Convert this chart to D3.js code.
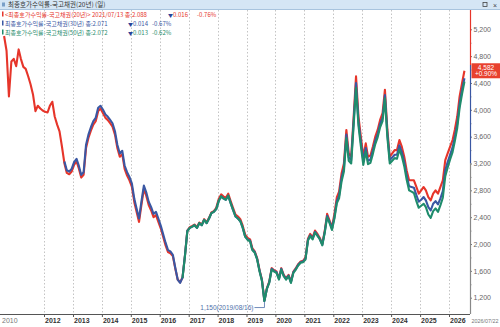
<!DOCTYPE html>
<html><head><meta charset="utf-8">
<script src="https://cdn.jsdelivr.net/npm/d3@7"></script>
<style>body{margin:0;background:#fff}svg{display:block}</style>
</head><body>
<svg id="c" width="500" height="327"></svg>
<script>
// ---------------- DATA ----------------
const titleText = "최종호가수익률-국고채권(20년) (일)";
const seriesNames = ["최종호가수익률-국고채권(20년)", "최종호가수익률-국고채권(30년)", "최종호가수익률-국고채권(50년)"];
const legendDate = "2021/07/13";
const legendClose = ["2.088", "2.071", "2.072"];
const legendChange = ["0.016", "0.014", "0.013"];
const legendPct = ["-0.76%", "-0.67%", "-0.62%"];
const yearTicks = [2012, 2013, 2014, 2015, 2016, 2017, 2018, 2019, 2020, 2021, 2022, 2023, 2024, 2025, 2026];
const firstLabel = "2010";
const lastLabel = "2026/07/22";
const yTicks = [1200, 1600, 2000, 2400, 2800, 3200, 3600, 4000, 4400, 4800, 5200];
const lastValue = 4582;
const lastPct = "+0.90%";
const minLabel = "1,150(2019/08/16)";
const minValue = 1150;
const minDate = "2019-08-16";

// monthly values (mid-month), start months
const start20 = [2010, 8];
const y20 = [
  5100, 4880, 4200, 4720, 4760,
  4650, 4900, 4760, 4640, 4610, 4500, 4380, 4230, 3980, 4060, 4020, 3990,
  3970, 3960, 4060, 4120, 3900, 3780, 3680, 3450, 3200, 3060, 3040, 3080,
  3180, 3230, 3130, 2990, 3030, 3430, 3580, 3690, 3780, 3830, 3980, 4020,
  3950, 3880, 3850, 3800, 3750, 3630, 3430, 3300, 3340, 3120, 3020, 2950,
  2850, 2620, 2480, 2330, 2580, 2820, 2720, 2580, 2500, 2400, 2430, 2330,
  2230, 2100, 1980, 1880, 1860, 1820, 1640, 1470, 1430, 1500, 1830, 2200,
  2250, 2270, 2290, 2250, 2320, 2290, 2370, 2320, 2390, 2470, 2490, 2540,
  2670, 2740, 2710, 2690, 2750, 2640, 2540, 2440, 2410, 2370, 2270, 2140,
  2090, 2070, 1940, 1890, 1790, 1610, 1470, 1160, 1340, 1440, 1640, 1610,
  1590, 1490, 1640, 1540, 1490, 1540, 1440, 1590, 1640, 1700, 1740, 1750,
  1800, 2080, 2150, 2100, 2200, 2150, 2090, 2000, 2200, 2450, 2350, 2250,
  2450, 2700, 2780, 3050, 3200, 3700, 3350, 3300, 3900, 4500, 3900, 3600,
  3300, 3500, 3300, 3320, 3450, 3600, 3700, 3850, 3950, 4300, 3700, 3300,
  3350, 3400, 3400, 3550, 3450, 3300, 3100, 2950, 2950, 2950, 2850, 2750,
  2800, 2850, 2800, 2700, 2650, 2750, 2800, 2750, 2850, 2950, 3250, 3350,
  3450, 3550, 3700, 3900, 4200, 4400, 4582
];
const start30 = [2012, 9];
const y30 = [
  3230, 3100, 3080, 3120,
  3220, 3270, 3170, 3030, 3070, 3480, 3630, 3740, 3830, 3880, 4030, 4060,
  4000, 3930, 3900, 3850, 3800, 3680, 3480, 3350, 3390, 3170, 3070, 3000,
  2900, 2670, 2530, 2380, 2630, 2870, 2770, 2630, 2550, 2450, 2480, 2380,
  2270, 2140, 2020, 1910, 1890, 1840, 1650, 1470, 1420, 1500, 1830, 2200,
  2240, 2260, 2280, 2240, 2310, 2280, 2360, 2310, 2380, 2460, 2480, 2520,
  2640, 2710, 2680, 2660, 2720, 2610, 2510, 2410, 2380, 2340, 2240, 2110,
  2070, 2050, 1920, 1880, 1780, 1600, 1460, 1150, 1330, 1430, 1630, 1600,
  1580, 1480, 1630, 1530, 1480, 1530, 1430, 1580, 1630, 1690, 1730, 1740,
  1780, 2060, 2130, 2080, 2180, 2130, 2071, 1990, 2180, 2420, 2330, 2230,
  2400, 2640, 2720, 2980, 3130, 3630, 3290, 3250, 3830, 4400, 3820, 3520,
  3240, 3430, 3240, 3260, 3390, 3540, 3640, 3790, 3880, 4220, 3640, 3250,
  3290, 3330, 3330, 3470, 3370, 3220, 3020, 2860, 2850, 2840, 2730, 2630,
  2660, 2700, 2650, 2550, 2500, 2600, 2640, 2590, 2680, 2790, 3100, 3220,
  3330, 3440, 3590, 3790, 4090, 4300, 4470
];
const start50 = [2016, 10];
const y50 = [
  1490, 1820, 2190,
  2240, 2260, 2280, 2240, 2310, 2280, 2360, 2310, 2380, 2460, 2480, 2520,
  2640, 2710, 2680, 2660, 2720, 2610, 2510, 2410, 2380, 2340, 2240, 2110,
  2060, 2040, 1910, 1870, 1770, 1590, 1450, 1150, 1330, 1420, 1620, 1590,
  1570, 1470, 1620, 1520, 1470, 1520, 1420, 1570, 1620, 1680, 1720, 1730,
  1770, 2050, 2120, 2070, 2170, 2120, 2072, 1980, 2170, 2400, 2310, 2210,
  2380, 2610, 2680, 2930, 3080, 3580, 3240, 3200, 3770, 4330, 3760, 3460,
  3180, 3380, 3190, 3210, 3340, 3490, 3590, 3740, 3830, 4170, 3590, 3200,
  3240, 3280, 3270, 3410, 3310, 3160, 2960, 2800, 2780, 2760, 2640, 2540,
  2570, 2600, 2550, 2440, 2390, 2490, 2530, 2480, 2580, 2690, 3010, 3140,
  3260, 3370, 3530, 3730, 4030, 4240, 4420
];
const colors = ["#e6352a", "#3a57a3", "#1f8c6c"];
const downColor = "#27439a";

// ---------------- CHART ----------------
const svg = d3.select("#c");
const W = 500, H = 327;
const plotLeft = 1, plotRight = 470, plotTop = 10, plotBottom = 314;
const KR = "'Noto Sans CJK KR','Noto Sans',sans-serif";
const LAT = "'Liberation Sans',Arial,sans-serif";

const x = d3.scaleTime().domain([new Date(2012, 0, 1), new Date(2026, 0, 1)]).range([44, 449]);
const y = d3.scaleLinear().domain([1200, 5200]).range([297.7, 29.3]);

function build(start, vals) {
  return vals.map((v, i) => ({ date: new Date(start[0], start[1] - 1 + i, 15), v }));
}
const data = [build(start20, y20), build(start30, y30), build(start50, y50)];

svg.append("rect").attr("width", W).attr("height", H).attr("fill", "#fff");

// clip
svg.append("defs").append("clipPath").attr("id", "clip")
  .append("rect").attr("x", plotLeft).attr("y", plotTop).attr("width", plotRight - plotLeft).attr("height", plotBottom - plotTop);

// vertical dashed year grid
svg.append("g").selectAll("line").data(yearTicks).join("line")
  .attr("x1", d => Math.round(x(new Date(d, 0, 1))) + 0.5)
  .attr("x2", d => Math.round(x(new Date(d, 0, 1))) + 0.5)
  .attr("y1", plotTop).attr("y2", plotBottom)
  .attr("stroke", "#c4c4c4").attr("stroke-width", 1).attr("stroke-dasharray", "1.5,2");

// series lines
const line = d3.line().x(d => x(d.date)).y(d => y(d.v));
const lg = svg.append("g").attr("clip-path", "url(#clip)");
data.forEach((s, i) => {
  lg.append("path").datum(s).attr("d", line)
    .attr("fill", "none").attr("stroke", colors[i]).attr("stroke-width", 2.1)
    .attr("stroke-linejoin", "round");
});

// bottom axis
const xAxis = d3.axisBottom(x)
  .tickValues(yearTicks.map(d => new Date(d, 0, 1)))
  .tickSize(3).tickFormat("");
const xg = svg.append("g").attr("transform", `translate(0,${plotBottom})`).call(xAxis);
xg.select(".domain").attr("stroke", "#555").attr("d", `M0,0.5H${plotRight}`);
xg.selectAll(".tick line").attr("stroke", "#555");
svg.append("g").selectAll("text").data(yearTicks).join("text")
  .attr("x", d => x(new Date(d, 0, 1)) + 1)
  .attr("y", 323)
  .attr("font-family", LAT).attr("font-size", 7).attr("font-weight", "bold")
  .attr("fill", "#333").text(d => d);
svg.append("text").attr("x", 2).attr("y", 323).attr("font-family", LAT).attr("font-size", 7)
  .attr("fill", "#777").text(firstLabel);
svg.append("text").attr("x", 471.5).attr("y", 323).attr("font-family", LAT).attr("font-size", 5.4)
  .attr("fill", "#777").text(lastLabel);

// right axis
const yAxis = d3.axisRight(y).tickValues(yTicks).tickSize(2).tickPadding(1.5).tickFormat(d3.format(","));
const yg = svg.append("g").attr("transform", `translate(${plotRight},0)`).call(yAxis);
yg.select(".domain").remove();
yg.selectAll(".tick line").attr("stroke", "#777");
yg.selectAll(".tick text").attr("font-family", LAT).attr("font-size", 7).attr("fill", "#666");
const minorTicks = yTicks.slice(0, -1).map(d => d + 200);
yg.append("g").selectAll("line").data(minorTicks).join("line")
  .attr("x1", 0).attr("x2", 1.5).attr("y1", d => y(d) + 0.5).attr("y2", d => y(d) + 0.5).attr("stroke", "#999");
// colored axis line segments
const axSeg = [[plotTop, 65, colors[0]], [65, y(3200), colors[1]], [y(3200), plotBottom, "#888"]];
svg.append("g").selectAll("line").data(axSeg).join("line")
  .attr("x1", plotRight + 0.5).attr("x2", plotRight + 0.5)
  .attr("y1", d => d[0]).attr("y2", d => d[1]).attr("stroke", d => d[2]).attr("stroke-width", 1.2);

// last value box
const ly = y(lastValue);
svg.append("rect").attr("x", 471.5).attr("y", ly - 7.5).attr("width", 28.5).attr("height", 15).attr("fill", "#e8412f");
svg.append("text").attr("x", 486).attr("y", ly - 1.2).attr("text-anchor", "middle")
  .attr("font-family", LAT).attr("font-size", 6.5).attr("fill", "#fff").text(d3.format(",")(lastValue));
svg.append("text").attr("x", 486).attr("y", ly + 5.6).attr("text-anchor", "middle")
  .attr("font-family", LAT).attr("font-size", 6.5).attr("fill", "#fff").text(lastPct);

// min annotation
const md = d3.timeParse("%Y-%m-%d")(minDate);
const mx = x(md), my = y(minValue);
svg.append("path").attr("d", `M${mx - 10},${my + 6.5}H${mx}V${my + 1}`)
  .attr("fill", "none").attr("stroke", "#4d6fa8").attr("stroke-width", 0.8);
svg.append("text").attr("x", mx - 11).attr("y", my + 9).attr("text-anchor", "end")
  .attr("font-family", LAT).attr("font-size", 6.5).attr("fill", "#4d6fa8").text(minLabel);

// title bar
svg.append("rect").attr("x", 0).attr("y", 0).attr("width", W).attr("height", 9.5).attr("fill", "#d5e6f5");
svg.append("line").attr("x1", 0).attr("x2", W).attr("y1", 9.5).attr("y2", 9.5).attr("stroke", "#a8c4de");
svg.append("rect").attr("x", 2).attr("y", 2.5).attr("width", 3).attr("height", 4).attr("fill", "#7aa0c8");
svg.append("text").attr("x", 8).attr("y", 7.3).attr("font-family", KR).attr("font-size", 6.5)
  .attr("fill", "#333").text(titleText);
svg.append("rect").attr("x", 483).attr("y", 2.5).attr("width", 4).attr("height", 4)
  .attr("fill", "none").attr("stroke", "#444").attr("stroke-width", 0.8);
svg.append("text").attr("x", 493).attr("y", 7.5).attr("font-family", LAT).attr("font-size", 7)
  .attr("fill", "#444").text("×");

// legend
const legY = [16.5, 25.5, 34.5];
const legStarts = [[168, 197], [128, 152], [128, 152]];
seriesNames.forEach((n, i) => {
  svg.append("rect").attr("x", 2).attr("y", legY[i] - 5).attr("width", 1.5).attr("height", 5).attr("fill", colors[i]);
  const main = i === 0 ? `<${n}> ${legendDate} 종:${legendClose[i]}` : `${n} 종:${legendClose[i]}`;
  svg.append("text").attr("x", 5).attr("y", legY[i]).attr("font-family", KR).attr("font-size", 6)
    .attr("fill", colors[i]).text(main);
  const t = svg.append("text").attr("x", legStarts[i][0]).attr("y", legY[i]).attr("font-family", KR).attr("font-size", 6);
  t.append("tspan").attr("fill", downColor).attr("font-size", 5).text("▼");
  t.append("tspan").attr("fill", colors[i]).text(legendChange[i]);
  svg.append("text").attr("x", legStarts[i][1]).attr("y", legY[i]).attr("font-family", KR).attr("font-size", 6)
    .attr("fill", colors[i]).text(legendPct[i]);
});
</script>
</body></html>
